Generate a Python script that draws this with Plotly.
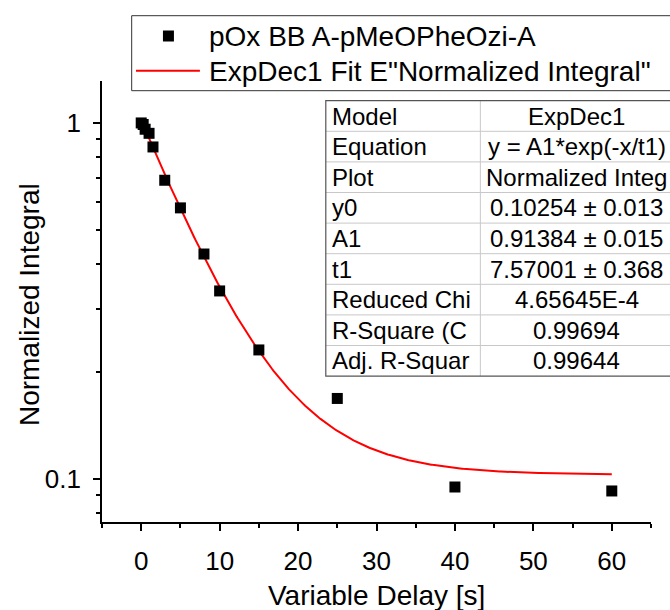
import numpy as np
import plotly.graph_objects as go

# ---- data ----
delay_s = [0, 0.25, 0.5, 1, 1.5, 3, 5, 8, 10, 15, 25, 40, 60]
norm_integral = [1.0, 0.99, 0.96, 0.935, 0.856, 0.69, 0.577, 0.428, 0.337, 0.23, 0.168, 0.0947, 0.0923]

# ExpDec1 fit parameters (from the table)
fit_y0 = 0.10254
fit_A1 = 0.91384
fit_t1 = 7.57001
fit_x_start, fit_x_end = 0, 60

x_tick_vals = [0, 10, 20, 30, 40, 50, 60]
x_minor_vals = [-5, 5, 15, 25, 35, 45, 55, 65]
y_tick_vals = [0.1, 1]
y_tick_text = ["0.1", "1"]
y_minor_vals = [0.08, 0.09, 0.2, 0.3, 0.4, 0.5, 0.6, 0.7, 0.8, 0.9]

x_title = "Variable Delay [s]"
y_title = "Normalized Integral"
legend_labels = ["pOx BB A-pMeOPheOzi-A", 'ExpDec1 Fit E"Normalized Integral"']
table_labels = ["Model", "Equation", "Plot", "y0", "A1", "t1",
                "Reduced Chi", "R-Square (C", "Adj. R-Squar"]
table_values = ["ExpDec1", "y = A1*exp(-x/t1)", "Normalized Integ",
                "0.10254 ± 0.013", "0.91384 ± 0.015", "7.57001 ± 0.368",
                "4.65645E-4", "0.99694", "0.99644"]

# ---- layout geometry (pixels) ----
W, H = 670, 610
L, R, T, B = 102, 18.5, 81, 88
PW, PH = W - L - R, H - T - B
FONT = "Liberation Sans, Arial, sans-serif"


def px(xp):
    return (xp - L) / PW


def py(yp):
    return (H - B - yp) / PH


fit_x = np.linspace(fit_x_start, fit_x_end, 400)
fit_y = fit_y0 + fit_A1 * np.exp(-fit_x / fit_t1)

fig = go.Figure()
fig.add_trace(go.Scatter(x=fit_x, y=fit_y, mode="lines",
                         line=dict(color="#ff0000", width=2),
                         name=legend_labels[1], showlegend=False))
fig.add_trace(go.Scatter(x=delay_s, y=norm_integral, mode="markers",
                         marker=dict(symbol="square", size=11, color="black"),
                         name=legend_labels[0], showlegend=False))

shapes = []
annotations = []

# axis titles
annotations.append(dict(xref="paper", yref="paper", x=px(376.8), y=py(595),
                        xanchor="center", yanchor="middle", text=x_title, showarrow=False,
                        font=dict(family=FONT, size=28, color="black")))
annotations.append(dict(xref="paper", yref="paper", x=px(29), y=py(305),
                        xanchor="center", yanchor="middle", text=y_title, showarrow=False,
                        textangle=-90, font=dict(family=FONT, size=28, color="black")))

# legend box
shapes.append(dict(type="rect", xref="paper", yref="paper",
                   x0=px(131.7), x1=px(720), y0=py(15.7), y1=py(90.7),
                   line=dict(color="#333333", width=1), fillcolor="white", layer="above"))
shapes.append(dict(type="rect", xref="paper", yref="paper",
                   x0=px(163), x1=px(174), y0=py(30.5), y1=py(41.5),
                   line=dict(width=0), fillcolor="black", layer="above"))
shapes.append(dict(type="line", xref="paper", yref="paper",
                   x0=px(136), x1=px(200), y0=py(70.7), y1=py(70.7),
                   line=dict(color="#ff0000", width=2), layer="above"))
for i, lab in enumerate(legend_labels):
    annotations.append(dict(xref="paper", yref="paper", x=px(207), y=py(36 + 35 * i),
                            xanchor="left", yanchor="middle", text=lab, showarrow=False,
                            font=dict(family=FONT, size=28, color="black")))

# fit table
tab_left, tab_mid, tab_right = 326, 480.7, 673.3
tab_top, row_h = 100.7, 30.6
n_rows = len(table_labels)
tab_bot = tab_top + n_rows * row_h
shapes.append(dict(type="rect", xref="paper", yref="paper",
                   x0=px(tab_left), x1=px(tab_right), y0=py(tab_top), y1=py(tab_bot),
                   line=dict(width=0), fillcolor="white", layer="above"))
for i in range(1, n_rows):
    yy = tab_top + i * row_h
    shapes.append(dict(type="line", xref="paper", yref="paper",
                       x0=px(tab_left), x1=px(tab_right), y0=py(yy), y1=py(yy),
                       line=dict(color="#c8c8c8", width=1), layer="above"))
shapes.append(dict(type="line", xref="paper", yref="paper",
                   x0=px(tab_mid), x1=px(tab_mid), y0=py(tab_top), y1=py(tab_bot),
                   line=dict(color="#c8c8c8", width=1), layer="above"))
shapes.append(dict(type="rect", xref="paper", yref="paper",
                   x0=px(tab_left), x1=px(tab_right), y0=py(tab_top), y1=py(tab_bot),
                   line=dict(color="#555555", width=1.2), layer="above"))
for i, (lab, val) in enumerate(zip(table_labels, table_values)):
    yc = tab_top + (i + 0.5) * row_h
    annotations.append(dict(xref="paper", yref="paper", x=px(tab_left + 4), y=py(yc),
                            xanchor="left", yanchor="middle", text=lab, showarrow=False,
                            font=dict(family=FONT, size=24, color="black")))
    annotations.append(dict(xref="paper", yref="paper", x=px((tab_mid + tab_right) / 2), y=py(yc),
                            xanchor="center", yanchor="middle", text=val, showarrow=False,
                            font=dict(family=FONT, size=24, color="black")))

axis_common = dict(showline=True, linecolor="black", linewidth=1.6, showgrid=False,
                   zeroline=False, ticks="outside", ticklen=7, tickwidth=1.6,
                   tickcolor="black", mirror=False, automargin=False,
                   tickfont=dict(family=FONT, size=26, color="black"))

fig.update_layout(
    width=W, height=H,
    margin=dict(l=L, r=R, t=T, b=B, pad=0, autoexpand=False),
    paper_bgcolor="white", plot_bgcolor="white",
    showlegend=False,
    shapes=shapes, annotations=annotations,
    xaxis=dict(range=[-5, 65], tickmode="array", tickvals=x_tick_vals,
               minor=dict(tickmode="array", tickvals=x_minor_vals, ticks="outside",
                          ticklen=4, tickwidth=1.6, tickcolor="black"),
               ticklabelstandoff=8,
               **axis_common),
    yaxis=dict(type="log", range=[np.log10(0.0755), np.log10(1.312)],
               tickmode="array", tickvals=y_tick_vals, ticktext=y_tick_text,
               minor=dict(tickmode="array", tickvals=y_minor_vals, ticks="outside",
                          ticklen=4, tickwidth=1.6, tickcolor="black"),
               ticklabelstandoff=7,
               **axis_common),
)

fig.write_html("out.html",
               config={"displayModeBar": False},
               post_script="document.body.style.margin='0';document.body.style.overflow='hidden';")
